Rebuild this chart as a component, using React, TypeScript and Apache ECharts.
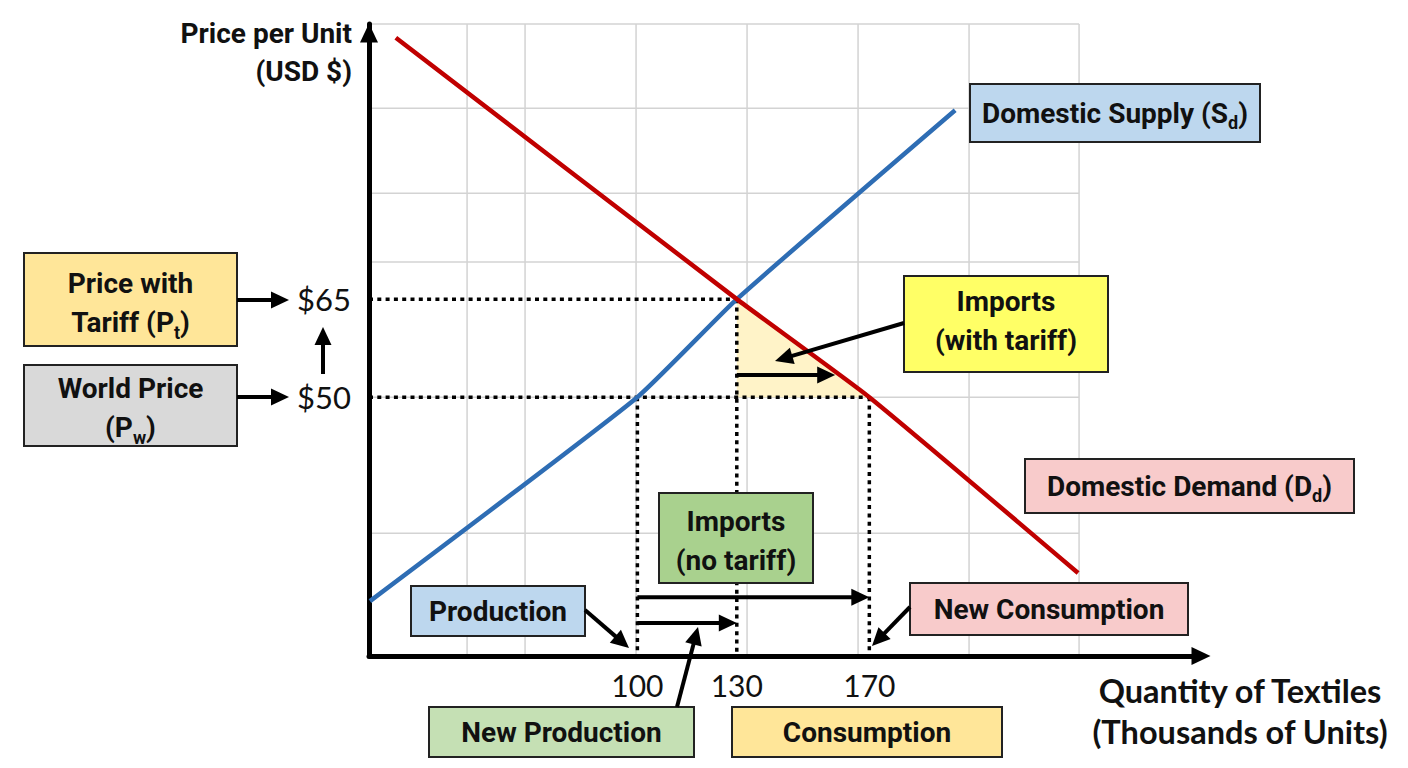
import React, { useEffect, useRef } from "react";
import * as echarts from "echarts";

// ---------- data ----------
const xTicks = [100, 130, 170];
const yTicks = [50, 65];
const worldPrice = 50;
const tariffPrice = 65;
const qProduction = 100;
const qNewProduction = 130;
const qConsumption = 170;

const supplyQ = [19.3, 100, 130, 195.9];
const supplyP = [18.8, 50, 65, 93.9];
const demandQ = [27.1, 130, 170, 233];
const demandP = [105, 65, 50, 23.1];

const importsNoTariffLevel = 19.4;
const newProductionLevel = 15.45;
const importsTariffLevel = 53.4;
const importsTariffArrowEnd = 159.7;

const gridQ = [48.6, 66.1, 99.6, 133.1, 166.6, 200.1, 233.3];
const gridP = [29.2, 50, 70.7, 81.2, 94.2, 107.1];
const gridQMax = 233.3;

const xMin = 19;
const xMax = 270.1;
const yMin = 10.4;
const yMax = 107.1;

// ---------- styling ----------
const LF = "Roboto, 'Liberation Sans', sans-serif";
const NF = "Lato, 'Open Sans', sans-serif";
const BLUE = "#2e6db4";
const RED = "#c00000";
const TOP = 100;

function arrowShapes(
  x1: number, y1: number, x2: number, y2: number,
  extra: any = {}, lw = 4, hl = 18, hw = 17, color = "#000"
) {
  const dx = x2 - x1;
  const dy = y2 - y1;
  const len = Math.hypot(dx, dy) || 1;
  const ux = dx / len;
  const uy = dy / len;
  const bx = x2 - ux * hl;
  const by = y2 - uy * hl;
  const px = -uy;
  const py = ux;
  return [
    { type: "line", ...extra, shape: { x1, y1, x2: bx + ux, y2: by + uy }, style: { stroke: color, lineWidth: lw } },
    {
      type: "polygon",
      ...extra,
      shape: { points: [[x2, y2], [bx + (px * hw) / 2, by + (py * hw) / 2], [bx - (px * hw) / 2, by - (py * hw) / 2]] },
      style: { fill: color },
    },
  ];
}

const rich = {
  b: { fontFamily: LF, fontWeight: "bold", fontSize: 28, lineHeight: 39, fill: "#111" },
  s: { fontFamily: LF, fontWeight: "bold", fontSize: 18, lineHeight: 18, padding: [20, 0, 0, 0], verticalAlign: "top", fill: "#111" },
};

function box(x: number, y: number, w: number, h: number, fill: string, text: string, cy?: number) {
  return {
    type: "group",
    z: TOP,
    children: [
      { type: "rect", z: TOP, shape: { x, y, width: w, height: h }, style: { fill, stroke: "#222", lineWidth: 2 } },
      {
        type: "text",
        z: TOP + 1,
        x: x + w / 2,
        y: cy ?? y + h / 2,
        style: { text, rich, align: "center", verticalAlign: "middle" },
      },
    ],
  };
}

function callout(x1: number, y1: number, x2: number, y2: number) {
  return { type: "group", z: TOP, children: arrowShapes(x1, y1, x2, y2, { z: TOP }) };
}

function title(text: string, x: number, y: number, font: string, size: number, align: string) {
  return {
    type: "text",
    z: TOP,
    x,
    y,
    style: { text, fontFamily: font, fontWeight: "bold", fontSize: size, fill: "#111", align, verticalAlign: "middle" },
  };
}

export default function App() {
  const ref = useRef<HTMLDivElement>(null);

  useEffect(() => {
    if (!ref.current) return;
    const chart = echarts.init(ref.current, null, { renderer: "svg" });

    const triangle = [
      [qNewProduction, tariffPrice],
      [qNewProduction, worldPrice],
      [qConsumption, worldPrice],
    ];
    const dottedSegments = [
      [[xMin, tariffPrice], [qNewProduction, tariffPrice]],
      [[qNewProduction, tariffPrice], [qNewProduction, yMin]],
      [[xMin, worldPrice], [qConsumption, worldPrice]],
      [[qProduction, worldPrice], [qProduction, yMin]],
      [[qConsumption, worldPrice], [qConsumption, yMin]],
    ];
    const arrowSegments = [
      [qProduction, importsNoTariffLevel, qConsumption, importsNoTariffLevel],
      [qProduction, newProductionLevel, qNewProduction, newProductionLevel],
      [qNewProduction, importsTariffLevel, importsTariffArrowEnd, importsTariffLevel],
    ];

    const option: any = {
      animation: false,
      backgroundColor: "#ffffff",
      grid: { left: 369, top: 24, right: 207, bottom: 112, containLabel: false, outerBoundsMode: "none" },
      xAxis: {
        type: "value",
        min: xMin,
        max: xMax,
        axisLine: {
          show: true,
          onZero: false,
          symbol: ["none", "triangle"],
          symbolSize: [18, 19],
          lineStyle: { color: "#000", width: 5 },
        },
        axisTick: { show: false },
        splitLine: { show: false },
        axisLabel: { customValues: xTicks, margin: 14, fontFamily: NF, fontSize: 30, color: "#111" },
      },
      yAxis: {
        type: "value",
        min: yMin,
        max: yMax,
        axisLine: {
          show: true,
          onZero: false,
          symbol: ["none", "triangle"],
          symbolSize: [18, 19],
          symbolOffset: [0, -9],
          lineStyle: { color: "#000", width: 5 },
        },
        axisTick: { show: false },
        splitLine: { show: false },
        axisLabel: {
          customValues: yTicks,
          formatter: (v: number) => "$" + v,
          margin: 18,
          fontFamily: NF,
          fontSize: 31,
          color: "#111",
        },
      },
      series: [
        {
          type: "custom",
          z: 0,
          silent: true,
          data: gridQ.map((q) => [q, yMax]),
          encode: { x: 0, y: 1 },
          renderItem: (_p: any, api: any) => {
            const a = api.coord([api.value(0), yMin]);
            const b = api.coord([api.value(0), api.value(1)]);
            return { type: "line", shape: { x1: a[0], y1: a[1], x2: b[0], y2: b[1] }, style: { stroke: "#d3d3d3", lineWidth: 1.5 } };
          },
        },
        {
          type: "custom",
          z: 0,
          silent: true,
          data: gridP.map((p) => [gridQMax, p]),
          encode: { x: 0, y: 1 },
          renderItem: (_p: any, api: any) => {
            const a = api.coord([xMin, api.value(1)]);
            const b = api.coord([api.value(0), api.value(1)]);
            return { type: "line", shape: { x1: a[0], y1: a[1], x2: b[0], y2: b[1] }, style: { stroke: "#d3d3d3", lineWidth: 1.5 } };
          },
        },
        {
          type: "custom",
          z: 1,
          silent: true,
          data: triangle,
          encode: { x: 0, y: 1 },
          renderItem: (params: any, api: any) => {
            if (params.dataIndex !== 0) return null;
            const pts = triangle.map((p) => api.coord(p));
            return { type: "polygon", shape: { points: pts }, style: { fill: "#fff3c8" } };
          },
        },
        ...dottedSegments.map((seg) => ({
          type: "line",
          z: 2,
          silent: true,
          symbol: "none",
          data: seg,
          lineStyle: { color: "#000", width: 3.5, type: [4, 4.3] },
        })),
        {
          type: "line",
          name: "Domestic Supply",
          z: 3,
          silent: true,
          symbol: "none",
          smooth: 0.15,
          data: supplyQ.map((q, i) => [q, supplyP[i]]),
          lineStyle: { color: BLUE, width: 4.5 },
        },
        {
          type: "line",
          name: "Domestic Demand",
          z: 3,
          silent: true,
          symbol: "none",
          smooth: 0.15,
          data: demandQ.map((q, i) => [q, demandP[i]]),
          lineStyle: { color: RED, width: 4.5 },
        },
        {
          type: "custom",
          z: 4,
          silent: true,
          data: arrowSegments,
          encode: { x: [0, 2], y: [1, 3] },
          renderItem: (_p: any, api: any) => {
            const a = api.coord([api.value(0), api.value(1)]);
            const b = api.coord([api.value(2), api.value(3)]);
            return { type: "group", children: arrowShapes(a[0], a[1], b[0], b[1]) };
          },
        },
      ],
      graphic: [
        title("Price per Unit", 352, 33, LF, 28, "right"),
        title("(USD $)", 352, 71, LF, 28, "right"),
        title("Quantity of Textiles", 1240, 690, NF, 32.5, "center"),
        title("(Thousands of Units)", 1240, 731, NF, 32.5, "center"),
        box(24, 253, 213, 93, "#ffe699", "{b|Price with}\n{b|Tariff (P}{s|t}{b|)}", 303),
        box(24, 365, 213, 81, "#d9d9d9", "{b|World Price}\n{b|(P}{s|w}{b|)}", 408),
        box(970, 84, 290, 58, "#bdd7ee", "{b|Domestic Supply (S}{s|d}{b|)}"),
        box(904, 276, 204, 96, "#ffff66", "{b|Imports}\n{b|(with tariff)}", 321),
        box(1025, 459, 329, 54, "#f8cbcb", "{b|Domestic Demand (D}{s|d}{b|)}"),
        box(659, 493, 154, 90, "#a9d18e", "{b|Imports}\n{b|(no tariff)}", 541),
        box(411, 586, 174, 50, "#bdd7ee", "{b|Production}"),
        box(910, 583, 278, 52, "#f8cbcb", "{b|New Consumption}"),
        box(429, 707, 265, 50, "#c5e0b4", "{b|New Production}"),
        box(732, 707, 270, 50, "#ffe699", "{b|Consumption}"),
        callout(237, 300, 289, 300),
        callout(237, 397, 289, 397),
        callout(323, 374, 323, 327),
        callout(585, 610, 629, 648),
        callout(677, 707, 698, 627),
        callout(910, 607, 872, 646),
        callout(904, 323, 775, 361),
      ],
    };

    chart.setOption(option);
    return () => chart.dispose();
  }, []);

  return <div ref={ref} style={{ position: "absolute", left: 0, top: 0, width: 1408, height: 768 }} />;
}
